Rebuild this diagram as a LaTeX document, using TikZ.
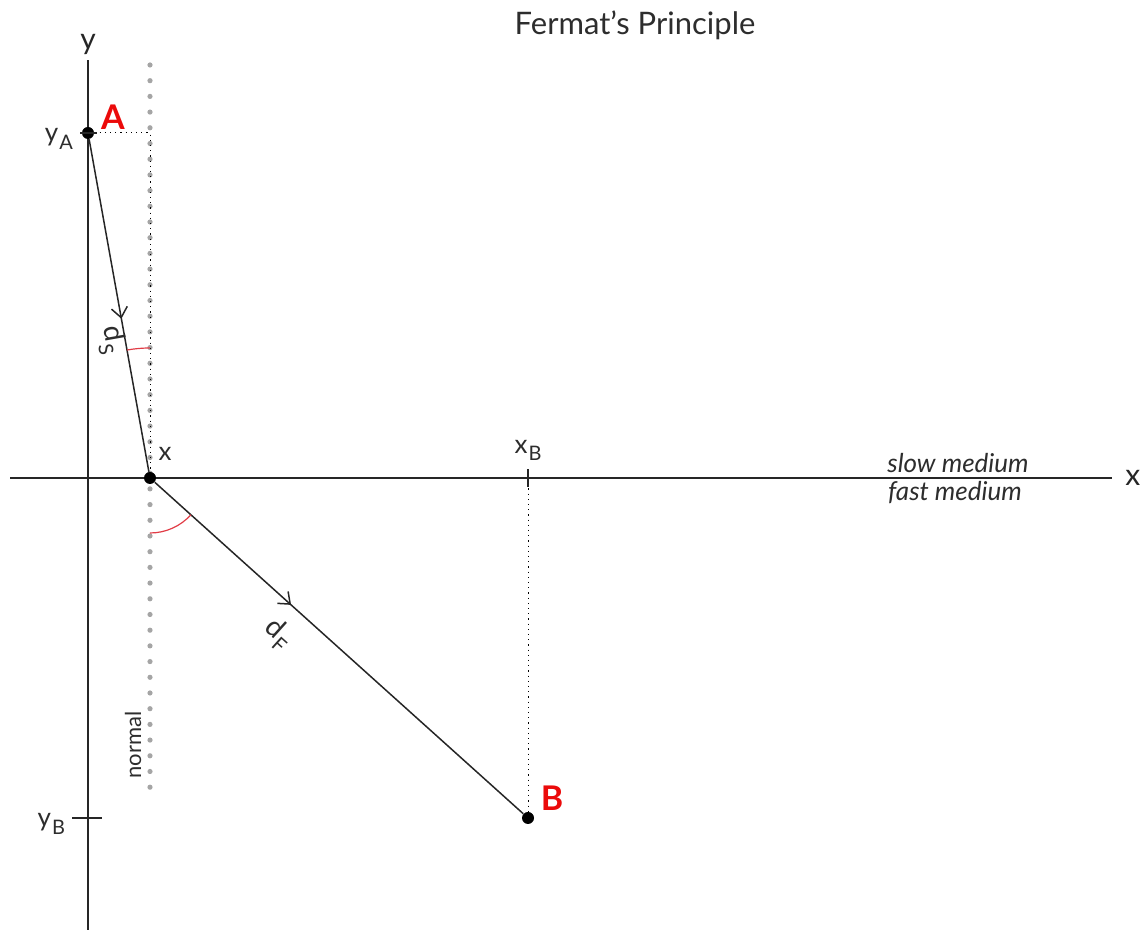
\documentclass[tikz,border=0pt]{standalone}
\usepackage{fontspec}
\setmainfont{Lato}
\usetikzlibrary{arrows.meta, decorations.markings, angles}
\definecolor{darktext} {RGB}{45, 45, 45}
\definecolor{ptred}    {RGB}{235, 10, 10}
\definecolor{arcred}   {RGB}{225, 60, 70}
\definecolor{normgray} {RGB}{165,165,165}

\newcommand{\subtxt}[2]{#1\kern0.5pt\raisebox{-0.6ex}{\fontsize{10}{12}\selectfont #2}}

\begin{document}
\begin{tikzpicture}[x=0.5pt, y=0.5pt, font=\fontsize{13}{15}\selectfont, darktext,
  axis/.style={line width=0.75pt, black!85},
  ray/.style={line width=0.75pt, black!85},
  dot/.style={circle, fill=black, inner sep=0pt, minimum size=6pt},
  tick/.style={line width=0.6pt, black!85},
  guide/.style={black, line width=0.5pt, dash pattern=on 0.6pt off 2pt},
  midarrow/.style={postaction={decorate, decoration={markings,
    mark=at position #1 with {\arrow{Straight Barb[length=5pt, width=8pt, line width=0.75pt]}}}}},
  ptlabel/.style={ptred, font=\fontsize{17}{19}\selectfont\bfseries}]
  \useasboundingbox (0,0) rectangle (1140,930);
  % title
  \node (title) at (635,905) {\fontsize{15.5}{17}\selectfont Fermat’s Principle};
  % normal (dotted gray)
  \coordinate (ntop) at (150,865);
  \coordinate (nbot) at (150,140);
  \draw[normgray, line width=2.6pt, line cap=round, dash pattern=on 0pt off 7.85pt] (ntop) -- (nbot);
  \node[rotate=90, font=\fontsize{11}{13}\selectfont] (normal) at (133,185) {normal};
  % axes
  \coordinate (xl) at (10,452);
  \coordinate (xr) at (1112,452);
  \coordinate (yt) at (88,870);
  \coordinate (yb) at (88,0);
  \draw[axis] (xl) -- (xr) node[right=3pt, font=\fontsize{15}{17}\selectfont] (xlab) {x};
  \draw[axis] (yb) -- (yt) node[above=-1pt, font=\fontsize{15}{17}\selectfont] (ylab) {y};
  % points
  \node[dot] (A) at (88,797) {};
  \node[dot] (X) at (150,452) {};
  \node[dot] (B) at (528,112) {};
  \node[ptlabel] (Alab) at (113,813) {A};
  \node[ptlabel] (Blab) at (552,132) {B};
  \node (xpt) at (165,476) {x};
  % ticks and guide lines
  \coordinate (An) at (150,797);
  \coordinate (xB) at (528,452);
  \draw[guide] (A) -- (An) -- (X);
  \draw[guide] (xB) -- (B);
  \draw[tick] (528,443) -- (528,461);
  \draw[tick] (80,797) -- (97,797);
  \draw[tick] (72,112) -- (102,112);
  \node[anchor=south] (xBlab) at (528,462) {\subtxt{x}{B}};
  \node[anchor=east] (yAlab) at (80,791) {\subtxt{y}{A}};
  \node[anchor=east] (yBlab) at (72,106) {\subtxt{y}{B}};
  % rays
  \draw[ray, midarrow=0.54] (A) -- (X);
  \draw[ray, midarrow=0.37] (X) -- (B);
  \node[rotate=-80, font=\fontsize{14}{16}\selectfont] (dS) at (112,590) {\subtxt{d}{S}};
  \node[rotate=-42, font=\fontsize{14}{16}\selectfont] (dF) at (278,296) {\subtxt{d}{F}};
  % angles
  \pic[draw=arcred, line width=0.6pt, angle radius=65pt] {angle = ntop--X--A};
  \pic[draw=arcred, line width=0.6pt, angle radius=27.5pt] {angle = nbot--X--B};
  % media
  \node[font=\fontsize{13}{15}\selectfont\itshape] (slow) at (958,467) {slow medium};
  \node[font=\fontsize{13}{15}\selectfont\itshape] (fast) at (955,437) {fast medium};
\end{tikzpicture}
\end{document}
